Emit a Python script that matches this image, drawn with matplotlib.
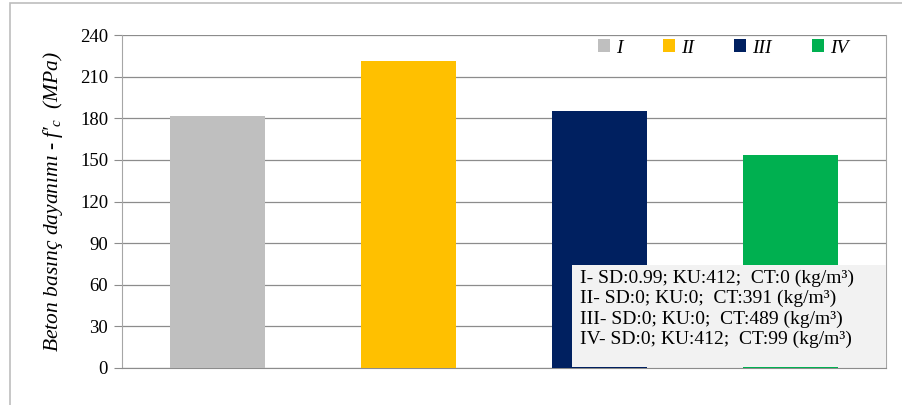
import matplotlib
matplotlib.use('Agg')
import matplotlib.pyplot as plt
from matplotlib.patches import Rectangle

plt.rcParams['font.family'] = ['Liberation Serif', 'DejaVu Serif']
plt.rcParams['mathtext.fontset'] = 'custom'
plt.rcParams['mathtext.rm'] = 'Liberation Serif'
plt.rcParams['mathtext.it'] = 'Liberation Serif:italic'

groups = ['I', 'II', 'III', 'IV']
strength = [181.7, 221.3, 185.2, 153.5]
colors = ['#bfbfbf', '#ffc000', '#002060', '#00b050']
yticks = [0, 30, 60, 90, 120, 150, 180, 210, 240]
notes = ['I- SD:0.99; KU:412;  CT:0 (kg/m³)',
         'II- SD:0; KU:0;  CT:391 (kg/m³)',
         'III- SD:0; KU:0;  CT:489 (kg/m³)',
         'IV- SD:0; KU:412;  CT:99 (kg/m³)']

fig = plt.figure(figsize=(9.03, 4.05), dpi=100)
ax = fig.add_axes([122/903, 1-368/405, 764/903, 333/405])

# outer chart frame
fig.patches.append(Rectangle((10/903, -0.1), 1.2, 1-3/405+0.1, transform=fig.transFigure,
                             fill=False, edgecolor='#bdbdbd', lw=1.2))

for i, (g, v, c) in enumerate(zip(groups, strength, colors)):
    ax.bar(i, v, width=0.5, color=c, label=g, zorder=3)

ax.set_xlim(-0.5, 3.5)
ax.set_ylim(0, 240)
ax.set_yticks(yticks)
ax.set_xticks([])
ax.tick_params(axis='y', direction='out', length=6, color='#8c8c8c', labelsize=13.5, pad=4)
ax.grid(axis='y', color='#8c8c8c', lw=0.9, zorder=0)
for s in ['left', 'right', 'bottom']:
    ax.spines[s].set_color('#a6a6a6')
ax.spines['bottom'].set_color('#8c8c8c')
ax.spines['top'].set_visible(False)

ax.set_ylabel("Beton basınç dayanımı - f′$_c$  (MPa)", fontstyle='italic', fontsize=15.5, labelpad=11)

leg = ax.legend(loc='center', bbox_to_anchor=(0.787, 0.961), ncol=4, frameon=False,
                handlelength=0.6, handleheight=0.6, handletextpad=0.3, columnspacing=2.1,
                prop={'style': 'italic', 'size': 14})

ax.add_patch(Rectangle((0.589, 0.004), 0.411, 0.305, transform=ax.transAxes,
                       facecolor='#f2f2f2', edgecolor='none', zorder=4))
ax.text(0.5995, 0.295, '\n'.join(notes), transform=ax.transAxes, va='top', ha='left',
        fontsize=14, linespacing=1.22, zorder=5)

fig.savefig('out.png', dpi=100)
